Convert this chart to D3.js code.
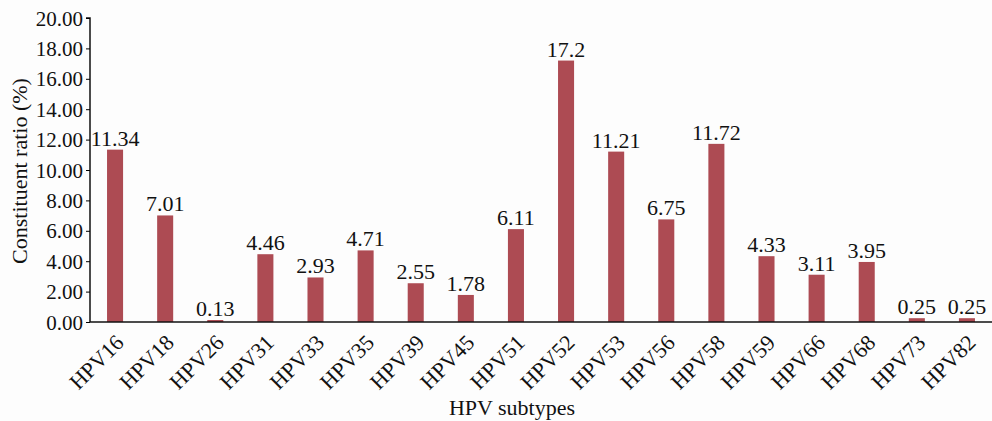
<!doctype html>
<html>
  <head>
    <meta charset="utf-8">
    <title>HPV subtypes constituent ratio</title>
    <script src="https://cdnjs.cloudflare.com/ajax/libs/d3/7.8.5/d3.min.js"></script>
    <style>
      body { margin: 0; background: #fdfdfd; }
      text { font-family: "Liberation Serif", "DejaVu Serif", serif; fill: #111; }
    </style>
  </head>
  <body>
    <div id="my-svg-chart"></div>
    <script>
      // data
      const subtypes = ['HPV16', 'HPV18', 'HPV26', 'HPV31', 'HPV33', 'HPV35', 'HPV39', 'HPV45', 'HPV51',
                        'HPV52', 'HPV53', 'HPV56', 'HPV58', 'HPV59', 'HPV66', 'HPV68', 'HPV73', 'HPV82'];
      const ratios = [11.34, 7.01, 0.13, 4.46, 2.93, 4.71, 2.55, 1.78, 6.11,
                      17.2, 11.21, 6.75, 11.72, 4.33, 3.11, 3.95, 0.25, 0.25];
      const yTicks = [0, 2, 4, 6, 8, 10, 12, 14, 16, 18, 20];

      const width = 992, height = 421;
      const plotLeft = 90, plotRight = 992, plotTop = 18, plotBottom = 322;

      const svg = d3.select('#my-svg-chart')
        .append('svg')
        .attr('width', width)
        .attr('height', height);

      const x = d3.scaleBand().domain(subtypes).range([plotLeft, plotRight]).paddingInner(0.68).paddingOuter(0.34);
      const y = d3.scaleLinear().domain([0, 20]).range([plotBottom, plotTop]);

      // bars
      svg.selectAll('rect.bar')
        .data(ratios)
        .join('rect')
        .attr('class', 'bar')
        .attr('x', (d, i) => x(subtypes[i]))
        .attr('width', x.bandwidth())
        .attr('y', d => y(d))
        .attr('height', d => plotBottom - y(d))
        .style('fill', '#ad4b53');

      // value labels
      svg.selectAll('text.val')
        .data(ratios)
        .join('text')
        .attr('class', 'val')
        .attr('x', (d, i) => x(subtypes[i]) + x.bandwidth() / 2)
        .attr('y', d => y(d) - 4)
        .attr('text-anchor', 'middle')
        .style('font-size', '22px')
        .text(d => d);

      // y axis
      const yAxis = svg.append('g')
        .attr('transform', `translate(${plotLeft},0)`)
        .call(d3.axisLeft(y).tickValues(yTicks).tickFormat(d3.format('.2f')).tickSize(4).tickPadding(3));
      yAxis.selectAll('text').style('font-size', '21px').attr('dy', '0.34em');
      yAxis.select('.domain').attr('d', `M-4,${plotTop}H0V${plotBottom}`).style('stroke', '#111').style('stroke-width', 1.5);

      // x axis
      const xAxis = svg.append('g')
        .attr('transform', `translate(0,${plotBottom})`)
        .call(d3.axisBottom(x).tickSize(0).tickPadding(0));
      xAxis.select('.domain').attr('d', `M${plotLeft},0H${plotRight}`).style('stroke', '#111').style('stroke-width', 1.5);
      xAxis.selectAll('text')
        .style('font-size', '22px')
        .attr('text-anchor', 'end')
        .attr('dy', 0)
        .attr('transform', 'translate(10,22) rotate(-45)');

      // axis titles
      svg.append('text')
        .attr('transform', `translate(27,171) rotate(-90)`)
        .attr('text-anchor', 'middle')
        .style('font-size', '22px')
        .text('Constituent ratio (%)');

      svg.append('text')
        .attr('x', 512)
        .attr('y', 415)
        .attr('text-anchor', 'middle')
        .style('font-size', '22px')
        .text('HPV subtypes');
    </script>
  </body>
</html>
